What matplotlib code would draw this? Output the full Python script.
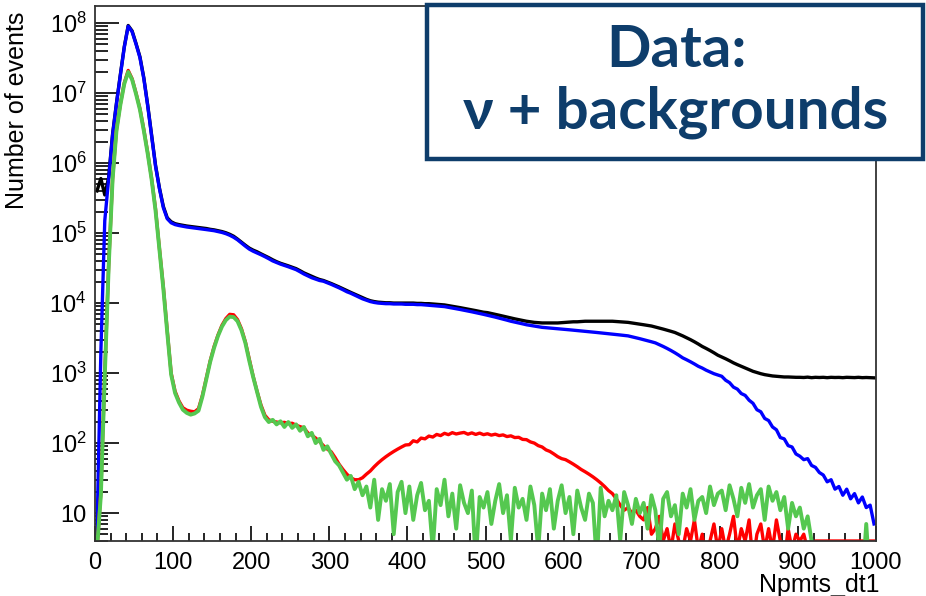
import numpy as np
import matplotlib.pyplot as plt
from matplotlib.patches import Rectangle
from matplotlib.ticker import FixedLocator, LogLocator, MultipleLocator, NullFormatter

# histogram binning (Npmts_dt1), 5 units per bin
bin_width = 5
x_min, x_max = 0, 1000

# data: total (black)
data_all = [
    4e5, 6e5, 3.5e5, 6.2e5, 2.6e6, 7.2e6, 1.85e7, 4.6e7, 9.2e7, 7.7e7,
    5.1e7, 3.3e7, 1.65e7, 6.7e6, 2.5e6, 9.3e5, 4.4e5, 2.4e5, 1.65e5, 1.45e5,
    1.36e5, 1.32e5, 1.29e5, 1.26e5, 1.24e5, 1.22e5, 1.2e5, 1.18e5, 1.16e5, 1.13e5,
    1.11e5, 1.08e5, 1.05e5, 1.01e5, 9.6e4, 9.0e4, 8.2e4, 7.4e4, 6.7e4, 6.1e4,
    5.7e4, 5.4e4, 5.05e4, 4.75e4, 4.45e4, 4.15e4, 3.9e4, 3.7e4, 3.55e4, 3.4e4,
    3.25e4, 3.1e4, 2.9e4, 2.7e4, 2.55e4, 2.4e4, 2.28e4, 2.17e4, 2.1e4, 2.0e4,
    1.9e4, 1.8e4, 1.7e4, 1.6e4, 1.5e4, 1.42e4, 1.34e4, 1.26e4, 1.19e4, 1.13e4,
    1.08e4, 1.05e4, 1.03e4, 1.02e4, 1.01e4, 1.01e4, 1.0e4, 1.0e4, 1.0e4, 1.0e4,
    1.0e4, 1.0e4, 9.9e3, 9.9e3, 9.8e3, 9.8e3, 9.7e3, 9.6e3, 9.5e3, 9.4e3,
    9.2e3, 9.0e3, 8.8e3, 8.6e3, 8.4e3, 8.2e3, 8.0e3, 7.8e3, 7.6e3, 7.4e3,
    7.3e3, 7.1e3, 6.9e3, 6.7e3, 6.5e3, 6.3e3, 6.1e3, 5.95e3, 5.8e3, 5.65e3,
    5.5e3, 5.4e3, 5.3e3, 5.25e3, 5.2e3, 5.2e3, 5.2e3, 5.2e3, 5.2e3, 5.25e3,
    5.3e3, 5.35e3, 5.4e3, 5.4e3, 5.45e3, 5.5e3, 5.5e3, 5.5e3, 5.5e3, 5.5e3,
    5.5e3, 5.5e3, 5.5e3, 5.45e3, 5.4e3, 5.35e3, 5.3e3, 5.2e3, 5.1e3, 5.0e3,
    4.9e3, 4.8e3, 4.7e3, 4.55e3, 4.4e3, 4.25e3, 4.1e3, 3.95e3, 3.8e3, 3.6e3,
    3.4e3, 3.2e3, 3.0e3, 2.8e3, 2.6e3, 2.4e3, 2.25e3, 2.1e3, 1.95e3, 1.8e3,
    1.7e3, 1.6e3, 1.5e3, 1.4e3, 1.32e3, 1.25e3, 1.18e3, 1.12e3, 1.06e3, 1.02e3,
    980, 950, 930, 910, 900, 890, 880, 880, 875, 870,
    870, 865, 875, 860, 870, 865, 870, 860, 870, 865,
    868, 860, 870, 865, 862, 870, 860, 865, 860, 855,
]

# neutrino + backgrounds (blue)
data_blue = [
    5, 2e3, 1.5e5, 6e5, 2.5e6, 7e6, 1.8e7, 4.5e7, 9e7, 7.5e7,
    5e7, 3.2e7, 1.6e7, 6.5e6, 2.4e6, 9e5, 4.3e5, 2.3e5, 1.6e5, 1.4e5,
    1.32e5, 1.28e5, 1.25e5, 1.22e5, 1.2e5, 1.18e5, 1.16e5, 1.14e5, 1.12e5, 1.1e5,
    1.08e5, 1.05e5, 1.02e5, 9.8e4, 9.3e4, 8.7e4, 8.0e4, 7.2e4, 6.5e4, 5.9e4,
    5.5e4, 5.2e4, 4.9e4, 4.6e4, 4.3e4, 4.0e4, 3.8e4, 3.6e4, 3.45e4, 3.3e4,
    3.15e4, 3.0e4, 2.8e4, 2.6e4, 2.45e4, 2.3e4, 2.2e4, 2.1e4, 2.05e4, 1.95e4,
    1.85e4, 1.75e4, 1.65e4, 1.55e4, 1.45e4, 1.38e4, 1.3e4, 1.22e4, 1.15e4, 1.1e4,
    1.05e4, 1.02e4, 1.0e4, 9.9e3, 9.8e3, 9.8e3, 9.7e3, 9.7e3, 9.7e3, 9.6e3,
    9.6e3, 9.6e3, 9.5e3, 9.5e3, 9.4e3, 9.3e3, 9.2e3, 9.1e3, 9.0e3, 8.9e3,
    8.7e3, 8.5e3, 8.3e3, 8.1e3, 7.9e3, 7.7e3, 7.5e3, 7.3e3, 7.1e3, 6.9e3,
    6.7e3, 6.5e3, 6.3e3, 6.1e3, 5.9e3, 5.7e3, 5.5e3, 5.35e3, 5.2e3, 5.05e3,
    4.9e3, 4.8e3, 4.7e3, 4.6e3, 4.5e3, 4.45e3, 4.4e3, 4.35e3, 4.3e3, 4.25e3,
    4.2e3, 4.15e3, 4.1e3, 4.05e3, 4.0e3, 3.95e3, 3.9e3, 3.85e3, 3.8e3, 3.75e3,
    3.7e3, 3.65e3, 3.6e3, 3.55e3, 3.5e3, 3.45e3, 3.4e3, 3.3e3, 3.2e3, 3.1e3,
    3.0e3, 2.9e3, 2.8e3, 2.7e3, 2.55e3, 2.4e3, 2.25e3, 2.1e3, 1.95e3, 1.8e3,
    1.65e3, 1.55e3, 1.45e3, 1.35e3, 1.25e3, 1.18e3, 1.1e3, 1.04e3, 980, 940,
    900, 790, 730, 630, 590, 510, 480, 410, 370, 300,
    280, 225, 210, 170, 155, 120, 115, 92, 88, 70,
    65, 58, 60, 48, 45, 38, 35, 28, 30, 22,
    24, 18, 22, 16, 19, 14, 17, 12, 13, 7,
]

# backgrounds (red)
data_red = [
    3, 20, 1e3, 3.5e4, 6e5, 3e6, 7e6, 1.4e7, 2.1e7, 1.6e7,
    1.0e7, 6e6, 3e6, 1.4e6, 6e5, 2.2e5, 6e4, 1.7e4, 4e3, 1e3,
    550, 400, 320, 295, 285, 280, 310, 480, 850, 1.5e3,
    2.4e3, 3.5e3, 4.8e3, 6.0e3, 6.9e3, 6.8e3, 5.8e3, 4.3e3, 2.8e3, 1.6e3,
    900, 550, 350, 250, 215, 205, 200, 195, 198, 190,
    192, 180, 172, 165, 140, 130, 118, 105, 92, 82,
    75, 62, 50, 42, 36, 32, 30, 30, 32, 36,
    40, 46, 52, 58, 64, 70, 76, 82, 88, 94,
    95, 108, 104, 118, 115, 126, 122, 133, 128, 138,
    132, 141, 135, 139, 142, 134, 140, 133, 139, 132,
    136, 130, 134, 128, 131, 124, 127, 120, 121, 113,
    112, 104, 100, 92, 88, 80, 76, 70, 64, 60,
    58, 54, 50, 46, 42, 39, 36, 33, 30, 27,
    24, 21, 19, 16, 13, 11, 12, 10, 11, 9,
    8, 12, 5, 6, 9, 4, 6, 3, 7, 4,
    3, 6, 4, 8, 3, 5, 2, 4, 7, 3,
    6, 3, 5, 9, 3, 6, 4, 8, 2, 5,
    7, 3, 6, 3, 8, 4, 2, 6, 3, 5,
    4, 5, 3, 2, 0, 0, 0, 0, 0, 0,
    0, 0, 0, 0, 0, 0, 0, 0, 0, 0,
]

# backgrounds, other selection (green)
data_green = [
    3, 18, 9e2, 3.3e4, 5.8e5, 2.9e6, 6.8e6, 1.35e7, 2.0e7, 1.55e7,
    9.7e6, 5.8e6, 2.9e6, 1.35e6, 5.8e5, 2.1e5, 5.8e4, 1.6e4, 3.8e3, 950,
    520, 380, 300, 270, 255, 265, 290, 460, 820, 1.45e3,
    2.3e3, 3.4e3, 4.6e3, 5.7e3, 6.4e3, 6.3e3, 5.5e3, 4.1e3, 2.7e3, 1.5e3,
    880, 540, 330, 235, 200, 215, 185, 205, 170, 200,
    165, 185, 150, 170, 125, 140, 100, 115, 80, 90,
    70, 55, 48, 38, 30, 34, 22, 28, 18, 24,
    12, 30, 8, 22, 15, 26, 5, 20, 28, 10,
    24, 8, 18, 27, 11, 15, 3, 22, 13, 30,
    9, 19, 6, 25, 14, 10, 21, 2, 17, 12,
    20, 7, 15, 26, 10, 18, 4, 23, 12, 16,
    8, 24, 13, 3, 19, 11, 22, 6, 15, 25,
    10, 17, 5, 21, 12, 8, 19, 14, 2, 23,
    9, 15, 11, 18, 4, 20, 13, 7, 16, 10,
    14, 6, 18, 11, 3, 16, 20, 9, 13, 5,
    19, 12, 22, 8, 15, 17, 10, 24, 13, 19,
    21, 11, 25, 16, 9, 23, 14, 26, 12, 18,
    22, 8, 24, 15, 20, 11, 17, 6, 14, 9,
    12, 6, 9, 4, 0, 0, 0, 0, 0, 0,
    0, 0, 0, 0, 0, 0, 0, 7, 0, 0,
]

y_min, y_max = 4, 1.75e8
edges = np.arange(x_min, x_max + bin_width, bin_width)
centers = 0.5 * (edges[:-1] + edges[1:])

plt.rcParams['font.family'] = ['Liberation Sans', 'DejaVu Sans']
plt.rcParams['mathtext.fontset'] = 'custom'
plt.rcParams['mathtext.rm'] = 'Liberation Sans'
plt.rcParams['mathtext.it'] = 'Liberation Sans'

fig = plt.figure(figsize=(9.26, 5.96), dpi=100)
ax = fig.add_axes([0.1026, 0.0923, 0.8434, 0.8977])


def draw_hist(values, color, floor, lw=2.4):
    v = np.asarray(values, dtype=float)
    v = np.where(v > 0, v, floor)
    ax.plot(centers, v, color=color, lw=lw)


draw_hist(data_all, 'black', 1)
draw_hist(data_blue, '#0000ff', 1)
draw_hist(data_red, '#ff0000', y_min)
draw_hist(data_green, '#55c850', 1, lw=2.8)

ax.set_yscale('log')
ax.set_xlim(x_min, x_max)
ax.set_ylim(y_min, y_max)

# ROOT-like ticks
ax.xaxis.set_major_locator(MultipleLocator(100))
ax.xaxis.set_minor_locator(MultipleLocator(20))
ax.yaxis.set_major_locator(FixedLocator([10.0 ** k for k in range(1, 9)]))
ax.yaxis.set_minor_locator(LogLocator(base=10, subs=np.arange(2, 10)))
ax.yaxis.set_minor_formatter(NullFormatter())
ax.set_yticklabels(['10'] + ['$10^{%d}$' % k for k in range(2, 9)])
ax.tick_params(axis='both', which='both', direction='in', top=False, right=False,
               labelsize=17, color='black')
ax.tick_params(axis='x', which='major', length=11, width=1.2, pad=8)
ax.tick_params(axis='x', which='minor', length=5.5, width=1.2)
ax.tick_params(axis='y', which='major', length=17, width=1.2, pad=6)
ax.tick_params(axis='y', which='minor', length=9, width=1.2)
for s in ax.spines.values():
    s.set_linewidth(1.3)
    s.set_color('#333333')

ax.set_xlabel('Npmts_dt1', fontsize=18, loc='right')
ax.xaxis.set_label_coords(1.005, -0.06)
ax.set_ylabel('Number of events', fontsize=18, loc='top')
ax.yaxis.set_label_coords(-0.085, 0.99)

# title box
box_color = '#0e3d6b'
fig.patches.append(Rectangle((0.461, 0.733), 0.536, 0.258, transform=fig.transFigure,
                             facecolor='white', edgecolor=box_color, lw=3.2, zorder=5))
fig.text(0.731, 0.888, 'Data:', ha='center', va='baseline', fontsize=42,
         fontweight='bold', color=box_color, family=['Lato', 'DejaVu Sans'], zorder=6)
fig.text(0.730, 0.785, 'ν + backgrounds', ha='center', va='baseline', fontsize=42,
         fontweight='bold', color=box_color, family=['Lato', 'DejaVu Sans'], zorder=6)

fig.savefig('out.png', dpi=100)
